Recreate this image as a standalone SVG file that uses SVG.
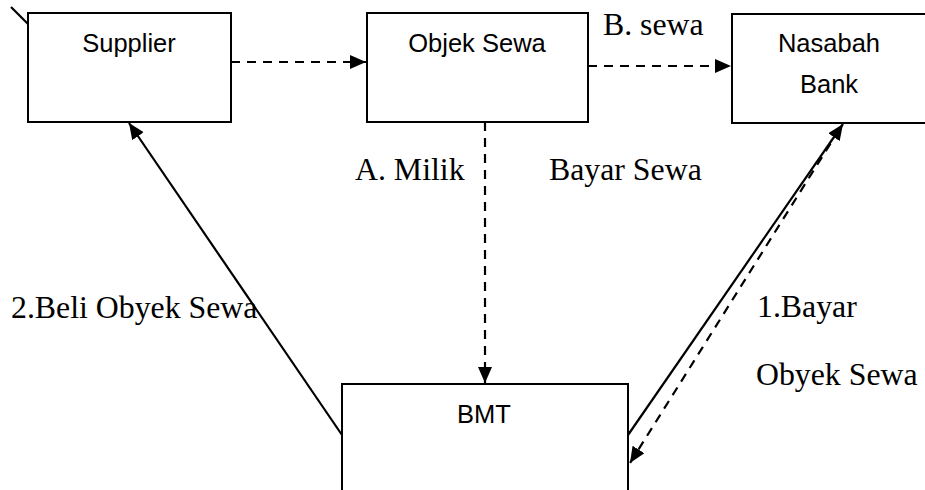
<svg xmlns="http://www.w3.org/2000/svg" width="925" height="490" viewBox="0 0 925 490">
<style>
.box{fill:#fff;stroke:#000;stroke-width:2}
.sans{font-family:"Liberation Sans",Arial,sans-serif;font-size:25.5px;fill:#000;text-anchor:middle}
.serif{font-family:"Liberation Serif","Times New Roman",serif;font-size:31.8px;fill:#000}
.solid{fill:none;stroke:#000;stroke-width:2.2}
.dash{fill:none;stroke:#000;stroke-width:2.2;stroke-dasharray:9 7}
</style>
<defs>
<marker id="ah" viewBox="0 0 16 14" refX="16" refY="7" markerWidth="16" markerHeight="14" markerUnits="userSpaceOnUse" orient="auto">
<path d="M0,0 L16,7 L0,14 Z" fill="#000"/>
</marker>
</defs>
<rect width="925" height="490" fill="#fff"/>
<path d="M410,490 L468,445 L522,490" fill="none" stroke="#dcebe1" stroke-width="9"/>
<g id="supplier">
<rect class="box" x="28" y="13" width="203" height="109"/>
<text class="sans" x="129" y="52">Supplier</text>
</g>
<g id="objek-sewa">
<rect class="box" x="367" y="13" width="221" height="109"/>
<text class="sans" x="477" y="52">Objek Sewa</text>
</g>
<g id="nasabah-bank">
<rect class="box" x="732" y="14" width="200" height="109"/>
<text class="sans" x="829" y="52">Nasabah</text>
<text class="sans" x="829" y="93">Bank</text>
</g>
<g id="bmt">
<rect class="box" x="342" y="384" width="286" height="120"/>
<text class="sans" x="484" y="423">BMT</text>
</g>
<g id="connectors">
<line class="solid" x1="11" y1="7" x2="28" y2="24"/>
<line class="dash" x1="231" y1="62" x2="366" y2="62" marker-end="url(#ah)"/>
<line class="dash" x1="588" y1="66" x2="731" y2="66" marker-end="url(#ah)"/>
<line class="dash" x1="485" y1="122" x2="485" y2="383" marker-end="url(#ah)"/>
<line class="solid" x1="342" y1="435" x2="129" y2="123" marker-end="url(#ah)"/>
<line class="solid" x1="628" y1="435" x2="843" y2="124" marker-end="url(#ah)"/>
<line class="dash" x1="839" y1="130" x2="630" y2="463" marker-end="url(#ah)"/>
</g>
<g id="labels">
<text class="serif" x="603" y="35">B. sewa</text>
<text class="serif" x="355" y="180">A. Milik</text>
<text class="serif" x="549" y="180">Bayar Sewa</text>
<text class="serif" x="11" y="318">2.Beli Obyek Sewa</text>
<text class="serif" x="757" y="317">1.Bayar</text>
<text class="serif" x="756" y="385">Obyek Sewa</text>
</g>
</svg>
